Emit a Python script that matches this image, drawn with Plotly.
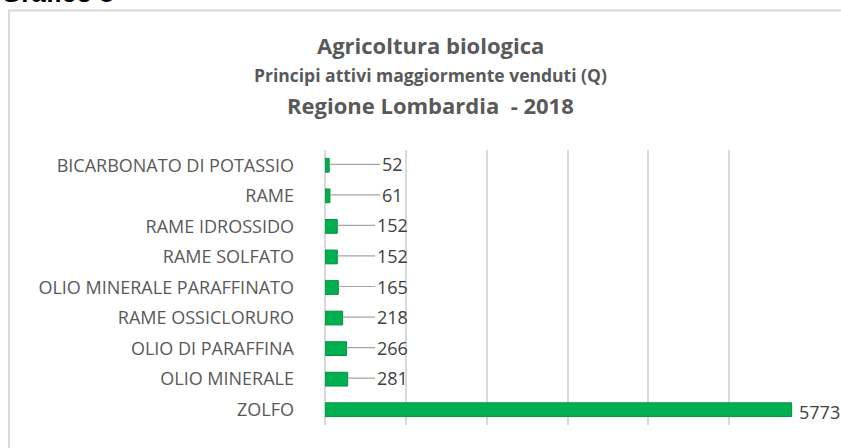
import plotly.graph_objects as go

categories = ["ZOLFO", "OLIO MINERALE", "OLIO DI PARAFFINA", "RAME OSSICLORURO",
              "OLIO MINERALE PARAFFINATO", "RAME SOLFATO", "RAME IDROSSIDO", "RAME",
              "BICARBONATO DI POTASSIO"]
values = [5773, 281, 266, 218, 165, 152, 152, 61, 52]
title_lines = ["Agricoltura biologica", "Principi attivi maggiormente venduti (Q)",
               "Regione Lombardia  - 2018"]
title_sizes = [22, 17.5, 22]
label_x = 830  # data position of the small-value labels

fig = go.Figure()
fig.add_trace(go.Bar(
    x=values, y=categories, orientation="h",
    marker=dict(color="#00b050", line=dict(color="#00913f", width=1)),
    width=0.45, hoverinfo="x+y",
))

# plot area in pixels: x 325..810, y 150..425
L, R, T, B = 325, 810, 150, 425
W, H = R - L, B - T
def px(xp):
    return (xp - L) / W
def py(yp):
    return (B - yp) / H

lab_font = dict(family="Open Sans", size=18, color="#404040")
ann = []
for c, v in zip(categories, values):
    if v > 3000:
        ann.append(dict(x=v, y=c, xref="x", yref="y", text=str(v), showarrow=False,
                        xanchor="left", xshift=5, yshift=-2, font=lab_font))
    else:
        ann.append(dict(x=v, y=c, xref="x", yref="y", text=str(v), showarrow=True,
                        axref="x", ayref="y", ax=label_x, ay=c,
                        arrowhead=0, arrowwidth=1.2, arrowcolor="#a6a6a6",
                        standoff=0, startstandoff=0, yshift=1, font=lab_font))

for i, t in enumerate(title_lines):
    ann.append(dict(x=px(430), y=py(45 + 30 * i), xref="paper", yref="paper",
                    text="<b>" + t + "</b>", showarrow=False, xanchor="center", yanchor="middle",
                    font=dict(family="Open Sans", size=title_sizes[i], color="#595959")))

ann.append(dict(x=px(-1), y=py(10), xref="paper", yref="paper", text="<b>Grafico 8</b>",
                showarrow=False, xanchor="left", yanchor="bottom",
                font=dict(family="Liberation Sans", size=26, color="#000000")))

fig.update_layout(
    width=841, height=448,
    margin=dict(l=L, r=841 - R, t=T, b=448 - B, pad=0),
    paper_bgcolor="white", plot_bgcolor="white",
    showlegend=False,
    annotations=ann,
    shapes=[dict(type="rect", xref="paper", yref="paper",
                 x0=px(9), x1=px(848), y0=py(452), y1=py(10.5),
                 line=dict(color="#d9d9d9", width=2), layer="below")],
    xaxis=dict(range=[0, 6000], dtick=1000, showgrid=True, gridcolor="#d9d9d9", gridwidth=1.5,
               zeroline=True, zerolinecolor="#d9d9d9", zerolinewidth=1.5,
               showticklabels=False, showline=False, fixedrange=True),
    yaxis=dict(categoryorder="array", categoryarray=categories, range=[-0.5, 8.5],
               showgrid=False, zeroline=False, showline=False, ticks="",
               ticklabelstandoff=30, automargin=False,
               tickfont=dict(family="Open Sans", size=18, color="#595959"),
               fixedrange=True),
)

fig.write_html("out.html", config={"displayModeBar": False},
               post_script="document.body.style.margin='0';document.body.style.overflow='hidden';")
